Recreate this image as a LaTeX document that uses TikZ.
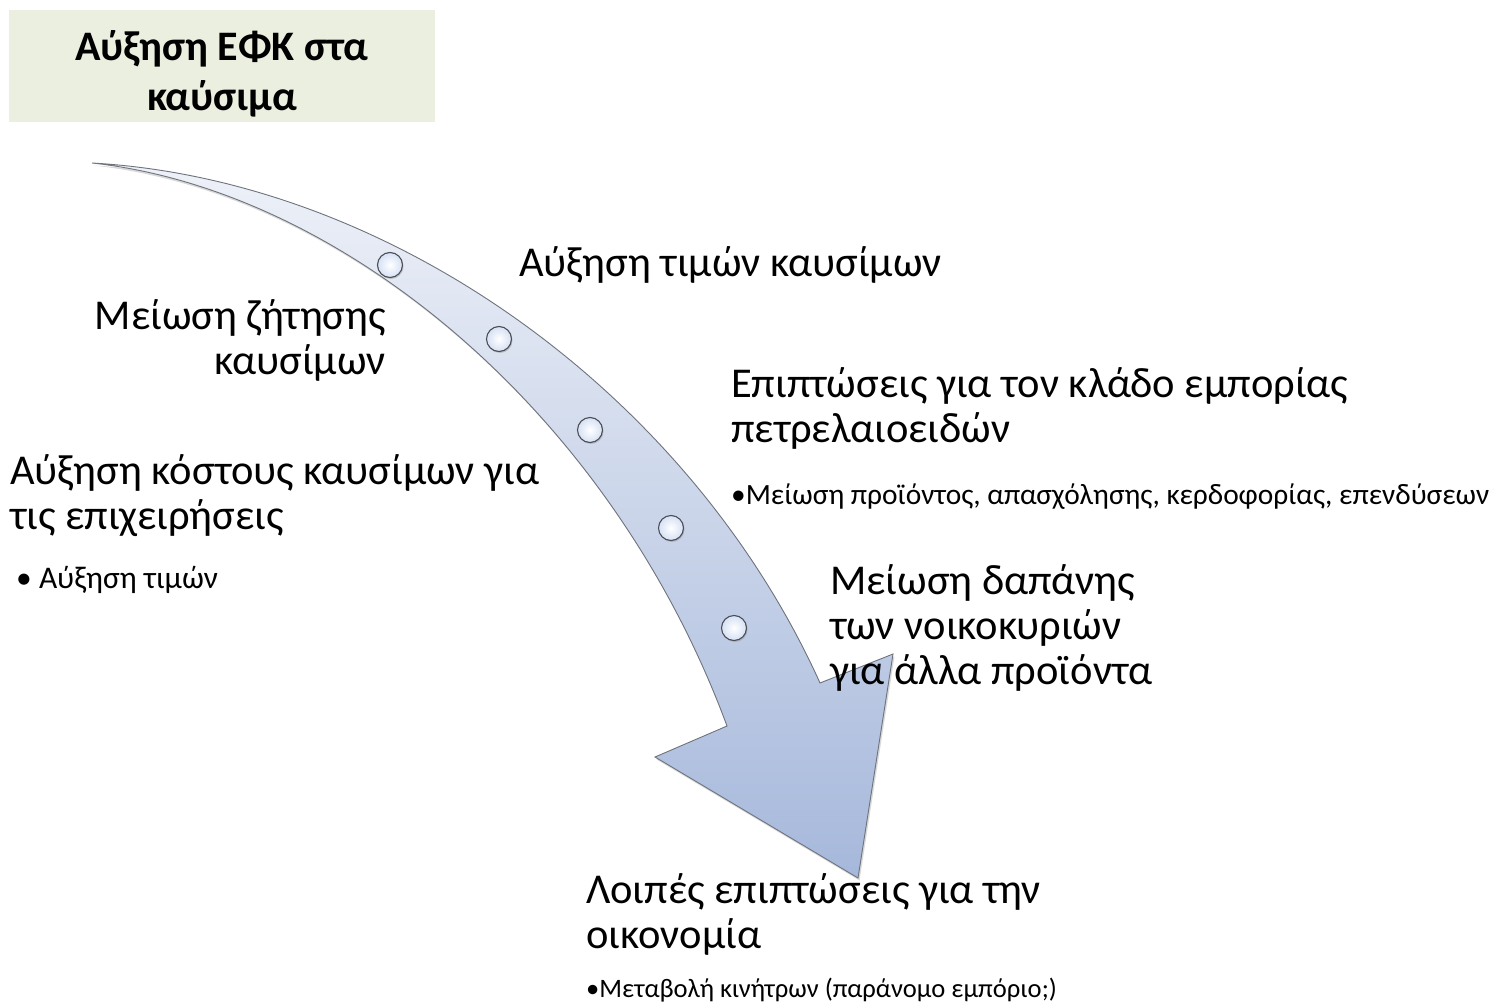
\documentclass[tikz,border=0pt]{standalone}
\usepackage{fontspec}
\setmainfont{Carlito}
\usetikzlibrary{shadows}
\definecolor{titlebg}{HTML}{EBEFDF}
\definecolor{arrtop}{HTML}{EEF1F8}
\definecolor{arrbot}{HTML}{A6B8DB}
\definecolor{arredge}{HTML}{6E737C}
\definecolor{dotedge}{HTML}{4A4D52}
\definecolor{dotfill}{HTML}{D6E1F5}
\tikzset{
  big/.style={font=\fontsize{42.5}{45}\selectfont, inner sep=0pt, align=left},
  small/.style={inner sep=0pt, align=left},
  dot/.style={circle, minimum size=25pt, inner sep=0pt, draw=dotedge, line width=1.1pt, inner color=white, outer color=dotfill,
    drop shadow={shadow xshift=1pt, shadow yshift=-1.5pt, opacity=0.35}},
}
\begin{document}
\begin{tikzpicture}[x=1pt,y=-1pt]
\useasboundingbox (0,0) rectangle (1495,1006);
% title
\node[fill=titlebg, minimum width=426pt, minimum height=112pt, anchor=north west, inner sep=0pt] (titlebox) at (9,10) {};
\node[font=\bfseries\fontsize{42}{50}\selectfont, align=center, inner sep=0pt] (title) at (222,74) {Αύξηση ΕΦΚ στα\\καύσιμα};
% arrow
\coordinate (start) at (92,163);
\coordinate (rnotch) at (820,683);
\coordinate (rbarb) at (893,654);
\coordinate (tip) at (858,878);
\coordinate (lbarb) at (655,757);
\coordinate (lnotch) at (727,726);
\shade[top color=arrtop, bottom color=arrbot, draw=arredge, line width=0.9pt, line join=miter,
       drop shadow={shadow xshift=1.5pt, shadow yshift=-2.5pt, opacity=0.3}]
  (start) .. controls (392,180) and (690,395) .. (rnotch)
  -- (rbarb) -- (tip) -- (lbarb) -- (lnotch)
  .. controls (610,410) and (340,190) .. (start) -- cycle;
% dots
\node[dot] (d1) at (390,265) {};
\node[dot] (d2) at (499,339) {};
\node[dot] (d3) at (590,430) {};
\node[dot] (d4) at (671,528) {};
\node[dot] (d5) at (734,628) {};
% texts
\node[big, anchor=west] (t1) at (519,265) {Αύξηση τιμών καυσίμων};
\node[big, anchor=east, align=right] (t2) at (386,340) {Μείωση ζήτησης\\καυσίμων};
\node[big, anchor=west] (t3) at (731,408) {Επιπτώσεις για τον κλάδο εμπορίας\\πετρελαιοειδών};
\node[small, anchor=west, font=\fontsize{29.4}{33}\selectfont] (t3b) at (731,497) {•Μείωση προϊόντος, απασχόλησης, κερδοφορίας, επενδύσεων};
\node[big, anchor=west] (t4) at (10,496) {Αύξηση κόστους καυσίμων για\\τις επιχειρήσεις};
\node[small, anchor=west, font=\fontsize{31.5}{35}\selectfont] (t4b) at (16,580) {• Αύξηση τιμών};
\node[big, anchor=west] (t5) at (830,628) {Μείωση δαπάνης\\των νοικοκυριών\\για άλλα προϊόντα};
\node[big, anchor=west] (t6) at (586,914) {Λοιπές επιπτώσεις για την\\οικονομία};
\node[small, anchor=west, font=\fontsize{26.6}{30}\selectfont] (t6b) at (586,990) {•Μεταβολή κινήτρων (παράνομο εμπόριο;)};
\end{tikzpicture}
\end{document}
